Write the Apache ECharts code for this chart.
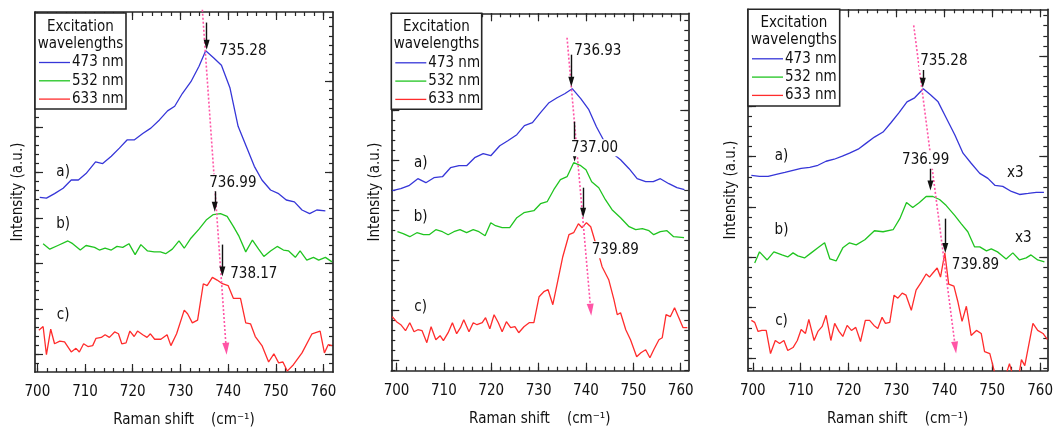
<!DOCTYPE html>
<html><head><meta charset="utf-8">
<script src="https://cdn.jsdelivr.net/npm/echarts@6/dist/echarts.min.js"></script>
<style>html,body{margin:0;padding:0;background:#fff}#c{width:1062px;height:428px}</style>
</head><body><div id="c"></div>
<script>
// ---------------- DATA ----------------
const xTickLabels = [700, 710, 720, 730, 740, 750, 760];
const legendTitle = ['Excitation', 'wavelengths'];
const seriesNames = ['473 nm', '532 nm', '633 nm'];
const curveLetters = ['a)', 'b)', 'c)'];
const xAxisTitle = 'Raman shift    (cm\u207B\u00B9)';
const yAxisTitle = 'Intensity (a.u.)';

const p1Blue = [[700.5,19.2],[701.9,19.1],[703.6,19.6],[705.4,20.2],[707.1,21.1],[708.6,21.1],[710.2,21.8],[712.2,23.1],[713.7,22.9],[715.5,23.7],[717.2,24.6],[718.8,25.5],[720.3,25.5],[722.1,26.2],[723.8,26.8],[725.6,27.7],[727.3,28.7],[728.8,29.2],[730.4,30.6],[732.2,31.9],[733.9,33.6],[735.3,35.3],[737.0,34.5],[738.6,33.7],[740.4,31.2],[742.1,27.0],[743.8,24.8],[745.5,22.6],[747.1,21.1],[748.9,20.0],[750.6,19.6],[752.2,18.9],[753.9,18.7],[755.5,17.8],[757.1,17.4],[758.6,17.8],[760.4,17.7]];
const p1Green = [[701.2,14.1],[702.6,13.5],[704.3,13.9],[706.4,14.4],[707.4,14.1],[709.0,13.4],[710.2,13.9],[712.0,13.7],[713.0,13.4],[714.2,13.6],[715.5,13.4],[716.7,13.8],[717.9,13.7],[719.2,14.1],[720.5,12.9],[721.7,14.0],[723.1,13.3],[724.5,13.2],[725.8,13.2],[726.9,13.0],[728.3,13.5],[729.7,14.4],[730.8,13.6],[732.2,14.7],[733.9,15.7],[735.4,16.7],[736.9,17.3],[738.4,17.4],[739.8,17.1],[741.1,16.0],[742.3,14.9],[743.7,13.2],[745.1,14.5],[746.4,13.5],[747.5,12.7],[748.9,13.3],[750.3,13.8],[751.6,13.4],[752.7,13.3],[754.1,12.6],[755.1,13.3],[756.5,12.3],[757.9,12.6],[759.0,12.3],[760.4,12.6],[761.8,12.1]];
const p1Red = [[700.3,4.6],[701.2,5.0],[701.9,1.9],[702.8,4.7],[703.6,3.1],[704.7,3.4],[705.7,3.3],[707.1,2.2],[708.1,2.6],[708.8,2.2],[709.7,3.1],[710.6,2.8],[711.6,2.9],[712.3,3.7],[713.4,3.8],[714.2,4.1],[715.1,3.8],[716.2,4.4],[717.0,4.2],[717.7,3.1],[718.6,3.2],[719.4,4.5],[720.3,3.9],[721.0,4.5],[722.1,4.1],[723.0,3.8],[723.7,4.2],[724.6,3.6],[725.9,3.6],[727.2,4.1],[728.0,2.9],[729.2,4.2],[730.8,6.8],[731.5,6.4],[732.5,5.4],[733.6,5.7],[734.8,9.7],[735.6,9.5],[736.7,10.4],[737.7,10.1],[738.8,9.7],[740.0,9.5],[741.1,8.1],[742.6,8.1],[743.7,5.4],[744.7,5.3],[745.7,3.9],[747.1,2.9],[748.5,1.1],[749.6,2.0],[750.6,1.0],[751.5,1.1],[752.4,0.1],[753.7,0.8],[755.5,2.1],[757.6,4.2],[759.3,4.5],[760.2,2.1],[761.0,3.0],[761.8,2.9]];
const p1Peaks = ['735.28', '736.99', '738.17'];

const p2Blue = [[699.1,18.0],[700.9,18.2],[702.6,18.5],[704.5,19.2],[706.2,18.8],[707.9,19.3],[709.7,19.4],[711.4,20.3],[713.2,20.5],[714.8,20.5],[716.5,21.3],[718.3,21.7],[719.9,21.5],[721.8,22.5],[723.5,23.0],[725.4,23.6],[727.0,24.5],[728.7,24.8],[730.4,25.8],[732.2,26.8],[733.9,27.3],[735.5,27.7],[737.1,28.2],[738.9,27.2],[740.6,26.1],[742.2,24.4],[743.9,22.9],[745.7,21.7],[747.3,21.1],[749.1,20.2],[750.8,19.2],[752.6,18.9],[754.2,18.9],[755.7,19.2],[757.5,18.7],[759.2,18.3],[760.8,18.1]];
const p2Green = [[700.2,13.9],[701.4,13.7],[702.8,13.4],[704.3,13.8],[705.7,13.6],[706.9,13.6],[708.3,14.1],[709.7,13.9],[710.9,13.6],[712.1,13.9],[713.4,14.1],[714.8,13.8],[716.2,14.1],[717.4,13.9],[718.7,13.5],[719.9,14.8],[720.9,14.5],[722.3,14.3],[723.9,14.3],[725.4,15.3],[726.9,15.8],[729.0,16.0],[730.4,16.7],[731.8,16.9],[733.2,18.1],[734.6,19.1],[736.0,19.4],[737.4,20.8],[738.9,20.5],[740.0,20.1],[741.2,18.9],[742.7,18.3],[744.1,17.1],[745.5,16.1],[747.3,15.3],[749.1,14.4],[750.5,14.1],[751.9,14.2],[753.3,14.0],[754.3,13.6],[755.7,13.9],[757.1,14.0],[758.5,13.4],[760.7,13.3]];
const p2Red = [[699.1,5.4],[700.0,4.9],[700.9,4.6],[701.9,4.0],[702.8,4.8],[703.7,3.9],[704.5,4.1],[705.4,4.0],[706.4,2.8],[707.3,4.4],[708.3,3.1],[709.2,3.5],[709.9,3.0],[710.9,3.8],[711.8,4.8],[712.7,3.7],[713.5,4.3],[714.2,5.1],[715.3,3.9],[716.2,4.8],[717.0,4.6],[718.1,4.8],[718.8,5.3],[719.7,4.2],[720.6,5.6],[721.5,4.8],[722.3,3.9],[723.2,4.9],[724.1,4.3],[725.0,4.4],[725.8,3.8],[726.9,4.4],[728.0,4.8],[729.0,4.8],[730.1,7.4],[731.1,7.9],[732.0,8.1],[733.0,6.6],[734.1,9.1],[735.1,11.4],[736.4,13.6],[737.4,13.8],[738.4,14.7],[739.2,14.3],[740.1,14.8],[741.0,14.4],[742.0,12.8],[743.4,10.4],[744.8,9.1],[745.9,7.1],[746.6,5.6],[747.3,5.8],[748.4,4.1],[749.4,3.1],[750.7,1.4],[751.6,1.8],[752.6,2.1],[753.5,1.3],[754.3,2.1],[755.4,3.1],[756.1,3.3],[756.9,5.6],[757.8,5.4],[758.7,6.3],[759.6,5.3],[760.5,4.3],[761.4,4.3]];
const p2Peaks = ['736.93', '737.00', '739.89'];

const p3Blue = [[699.7,19.4],[701.4,19.3],[703.2,19.3],[704.9,19.5],[706.7,19.7],[708.4,19.9],[710.1,20.1],[711.9,20.2],[713.6,20.4],[715.3,20.8],[717.0,21.0],[718.7,21.3],[720.2,21.6],[722.0,22.0],[723.7,22.6],[725.4,23.2],[727.2,23.7],[728.8,24.6],[730.5,25.6],[732.2,26.7],[733.8,27.1],[735.6,28.0],[737.1,27.4],[738.7,26.7],[740.4,25.1],[742.2,23.4],[743.9,21.6],[745.6,20.6],[747.4,19.6],[749.1,19.1],[750.6,18.4],[752.2,18.3],[754.0,17.8],[755.7,17.5],[757.5,17.6],[759.2,17.7],[760.8,17.7]];
const p3Green = [[700.4,10.7],[701.4,11.8],[703.0,11.0],[704.4,11.8],[706.1,11.5],[707.3,11.3],[708.4,11.7],[709.4,11.4],[710.8,11.2],[712.2,11.7],[713.6,12.2],[715.0,12.7],[716.1,11.1],[717.4,10.9],[718.8,12.2],[720.2,12.7],[721.6,12.5],[723.4,13.0],[725.4,13.9],[727.2,13.8],[729.3,14.0],[730.7,15.1],[732.1,16.7],[733.4,16.2],[734.8,16.7],[736.2,17.3],[737.6,17.3],[739.0,17.0],[740.4,16.4],[742.2,15.4],[743.5,14.6],[744.9,13.8],[746.3,12.3],[747.4,12.3],[748.8,11.9],[749.8,12.1],[751.1,11.8],[751.9,11.5],[752.9,11.1],[754.3,11.7],[755.7,11.0],[757.1,11.2],[758.1,11.5],[759.5,11.0],[760.9,10.8]];
const p3Red = [[699.7,5.0],[700.4,4.8],[701.1,3.9],[701.9,4.0],[702.8,4.0],[703.7,1.7],[704.7,3.0],[705.6,2.7],[706.5,3.0],[707.3,2.0],[708.4,2.3],[709.3,3.0],[710.1,4.1],[711.0,3.7],[711.7,5.1],[712.8,3.0],[713.6,3.9],[714.5,4.4],[715.3,5.5],[716.3,3.0],[717.1,4.7],[718.0,3.9],[718.8,3.4],[719.7,4.5],[720.6,4.0],[721.5,4.3],[722.5,2.9],[723.5,5.0],[724.4,5.0],[725.3,4.5],[726.1,4.2],[727.0,5.3],[727.7,4.7],[728.6,4.8],[729.5,7.5],[730.3,7.2],[731.2,7.7],[732.0,7.5],[733.1,6.0],[734.1,8.0],[735.2,8.8],[736.2,9.6],[736.9,9.3],[737.6,9.7],[738.5,10.2],[739.2,9.3],[740.1,11.7],[740.9,8.6],[742.0,8.4],[742.8,6.9],[743.7,4.9],[744.6,6.4],[745.6,3.5],[746.7,4.0],[747.7,3.7],[748.4,1.9],[749.5,1.7],[750.4,0.0],[751.2,-2.0],[752.2,-1.0],[753.0,-0.2],[753.6,0.7],[754.3,-0.5],[755.2,-1.5],[756.1,1.1],[756.8,0.5],[757.6,2.5],[758.5,4.7],[759.5,4.0],[760.6,3.7],[761.5,3.1]];
const p3Peaks = ['735.28', '736.99', '739.89'];
const p3Scale = ['x3', 'x3'];

// ---------------- LAYOUT ----------------
const FONT = "'DejaVu Sans Condensed','DejaVu Sans',sans-serif";
const AX = '#262626', TXT = '#111111';
const COLORS = ['#3636d8', '#20c420', '#ff2c2c'];
const PINK = '#ff55a6', PINK_HEAD = '#ff3c9c';

const panels = [
  { left: 35, top: 12, width: 298, height: 360, xMin: 699.5, xMax: 762, yMax: 39.56,
    minorOff: 0.95, lMajorOff: 1.95, rMajorOff: 1.95,
    legend: { x: 35, y: 13, w: 91, h: 96 },
    curves: [p1Blue, p1Green, p1Red], peaks: p1Peaks,
    peakPos: [[743.1, 35.3], [741.0, 20.8], [745.4, 10.8]],
    arrows: [[735.5, 38.4, 35.4], [737.2, 20.0, 17.6], [738.8, 14.0, 10.5]],
    pink: [[734.6, 39.8], [739.6, 1.9]],
    abcX: 705.4, abcY: [22.0, 16.2, 6.3], scalePos: [] },
  { left: 391.3, top: 13.3, width: 297, height: 357.4, xMin: 698.9, xMax: 761.6, yMax: 35.74,
    minorOff: 0.05, lMajorOff: 1.05, rMajorOff: 6.05,
    legend: { x: 391.3, y: 13.3, w: 90.4, h: 96 },
    curves: [p2Blue, p2Green, p2Red], peaks: p2Peaks,
    peakPos: [[742.5, 32.0], [741.8, 22.3], [746.2, 12.1]],
    arrows: [[736.9, 31.6, 28.4], [737.6, 24.9, 20.9], [739.4, 18.3, 15.3]],
    pink: [[736.0, 33.3], [741.0, 5.5]],
    abcX: 705.1, abcY: [20.8, 15.4, 6.4], scalePos: [] },
  { left: 748, top: 9.3, width: 299.3, height: 361.4, xMin: 699.0, xMax: 761.5, yMax: 35.89,
    minorOff: 0.26, lMajorOff: 1.26, rMajorOff: 1.26,
    legend: { x: 748, y: 9.3, w: 91.7, h: 96.7 },
    curves: [p3Blue, p3Green, p3Red], peaks: p3Peaks,
    peakPos: [[739.9, 30.7], [736.1, 20.9], [746.5, 10.5]],
    arrows: [[735.5, 30.2, 28.1], [737.1, 20.3, 17.9], [740.2, 15.1, 11.7]],
    pink: [[733.6, 34.3], [742.3, 1.7]],
    abcX: 706.0, abcY: [21.3, 14.0, 4.9], scalePos: [[754.8, 19.6], [756.5, 13.2]] }
];

function steps(a, b, s) { const r = []; for (let v = a; v <= b + 1e-9; v += s) r.push(+v.toFixed(4)); return r; }

const grids = [], xAxes = [], yAxes = [], series = [], graphics = [];
const tickLine = { color: AX, width: 1.2 };
const frameLine = { color: AX, width: 1.7 };
const txt = { color: TXT, fontFamily: FONT, fontSize: 15 };

panels.forEach((P, g) => {
  grids.push({ left: P.left, top: P.top, width: P.width, height: P.height,
    containLabel: false, outerBoundsMode: 'none' });
  const xi = xAxes.length, yi = yAxes.length;
  const minorX = steps(700, 760, 2);
  const minorY = steps(P.minorOff, P.yMax, 1);
  const lMajY = steps(P.lMajorOff, P.yMax, 5);
  const rMajY = steps(P.rMajorOff, P.yMax, 10);
  const xc = () => ({ type: 'value', gridIndex: g, min: P.xMin, max: P.xMax, splitLine: { show: false },
    axisLabel: { show: false }, axisLine: { show: false, onZero: false } });
  const yc = () => ({ type: 'value', gridIndex: g, min: 0, max: P.yMax, splitLine: { show: false },
    axisLabel: { show: false }, axisLine: { show: false, onZero: false } });

  xAxes.push(Object.assign(xc(), { position: 'bottom',
    axisLine: { show: true, onZero: false, lineStyle: frameLine },
    axisTick: { inside: true, length: 4, customValues: minorX, lineStyle: tickLine },
    axisLabel: Object.assign({ show: true, customValues: xTickLabels, margin: 13 }, txt),
    name: xAxisTitle, nameLocation: 'middle', nameGap: 41, nameMoveOverlap: false,
    nameTextStyle: Object.assign({}, txt) }));
  xAxes.push(Object.assign(xc(), { position: 'bottom',
    axisTick: { inside: true, length: 8, customValues: xTickLabels, lineStyle: tickLine } }));
  xAxes.push(Object.assign(xc(), { position: 'top',
    axisLine: { show: true, onZero: false, lineStyle: frameLine },
    axisTick: { inside: true, length: 4, customValues: minorX, lineStyle: tickLine } }));
  xAxes.push(Object.assign(xc(), { position: 'top',
    axisTick: { inside: true, length: 8, customValues: xTickLabels, lineStyle: tickLine } }));

  yAxes.push(Object.assign(yc(), { position: 'left',
    axisLine: { show: true, onZero: false, lineStyle: frameLine },
    axisTick: { inside: true, length: 4, customValues: minorY, lineStyle: tickLine },
    name: yAxisTitle, nameLocation: 'middle', nameRotate: 90, nameGap: 9, nameMoveOverlap: false,
    nameTextStyle: Object.assign({}, txt) }));
  yAxes.push(Object.assign(yc(), { position: 'left',
    axisTick: { inside: true, length: 8, customValues: lMajY, lineStyle: tickLine } }));
  yAxes.push(Object.assign(yc(), { position: 'right',
    axisLine: { show: true, onZero: false, lineStyle: frameLine },
    axisTick: { inside: true, length: 4, customValues: minorY, lineStyle: tickLine } }));
  yAxes.push(Object.assign(yc(), { position: 'right',
    axisTick: { inside: true, length: 8, customValues: rMajY, lineStyle: tickLine } }));

  // spectra
  P.curves.forEach((c, k) => {
    series.push({ type: 'line', name: seriesNames[k], xAxisIndex: xi, yAxisIndex: yi, data: c,
      showSymbol: false, symbol: 'none', clip: true, z: 2,
      lineStyle: { color: COLORS[k], width: 1.3 }, silent: true });
  });

  const unitPx = P.height / P.yMax;
  // pink dotted trend arrow
  series.push({ type: 'lines', coordinateSystem: 'cartesian2d', xAxisIndex: xi, yAxisIndex: yi,
    clip: false, z: 3, silent: true,
    symbol: ['none', 'triangle'], symbolSize: [1, [7, 12]],
    lineStyle: { color: PINK, width: 1.6, type: [2, 2], opacity: 1 },
    itemStyle: { color: PINK_HEAD },
    data: [{ coords: [P.pink[0], [P.pink[1][0], P.pink[1][1] + 6 / unitPx]] }] });

  // black peak arrows
  series.push({ type: 'lines', coordinateSystem: 'cartesian2d', xAxisIndex: xi, yAxisIndex: yi,
    clip: false, z: 4, silent: true,
    symbol: ['none', 'triangle'], symbolSize: [1, [6, 10]],
    lineStyle: { color: '#111', width: 1.4, opacity: 1 },
    data: P.arrows.map(a => ({ coords: [[a[0], a[1]], [a[0], a[2] + 5 / unitPx]] })) });

  // text annotations
  const texts = [];
  P.peaks.forEach((t, k) => texts.push({ name: t, value: P.peakPos[k], bg: true }));
  curveLetters.forEach((t, k) => texts.push({ name: t, value: [P.abcX, P.abcY[k]] }));
  P.scalePos.forEach((p, k) => texts.push({ name: p3Scale[k], value: p }));
  series.push({ type: 'scatter', xAxisIndex: xi, yAxisIndex: yi, symbolSize: 0, z: 6, silent: true,
    itemStyle: { color: 'rgba(0,0,0,0)', opacity: 1 },
    data: texts.map(t => ({ name: t.name, value: t.value,
      label: t.bg ? { backgroundColor: '#fff', padding: [1, 1] } : {} })),
    label: Object.assign({ show: true, position: 'inside', formatter: '{b}', opacity: 1 }, txt) });

  // legend box
  const L = P.legend;
  const kids = [
    { type: 'rect', shape: { x: 0, y: 0, width: L.w, height: L.h },
      style: { fill: '#fff', stroke: AX, lineWidth: 1.6 }, z: 100 },
    { type: 'text', x: L.w / 2, y: 14, z: 101,
      style: { text: legendTitle[0], fill: TXT, fontSize: 15, fontFamily: FONT, align: 'center', verticalAlign: 'middle' } },
    { type: 'text', x: L.w / 2, y: 31, z: 101,
      style: { text: legendTitle[1], fill: TXT, fontSize: 15, fontFamily: FONT, align: 'center', verticalAlign: 'middle' } }
  ];
  seriesNames.forEach((n, k) => {
    const yy = 49.5 + 18.3 * k;
    kids.push({ type: 'line', shape: { x1: 4, y1: yy, x2: 35, y2: yy }, style: { stroke: COLORS[k], lineWidth: 1.3 }, z: 101 });
    kids.push({ type: 'text', x: 37, y: yy, z: 101,
      style: { text: n, fill: TXT, fontSize: 15, fontFamily: FONT, align: 'left', verticalAlign: 'middle' } });
  });
  graphics.push({ type: 'group', x: L.x, y: L.y, z: 100, children: kids });
});

const chart = echarts.init(document.getElementById('c'), null, { renderer: 'canvas' });
chart.setOption({
  animation: false,
  backgroundColor: '#fff',
  grid: grids, xAxis: xAxes, yAxis: yAxes, series: series, graphic: graphics
});
</script>
</body></html>
